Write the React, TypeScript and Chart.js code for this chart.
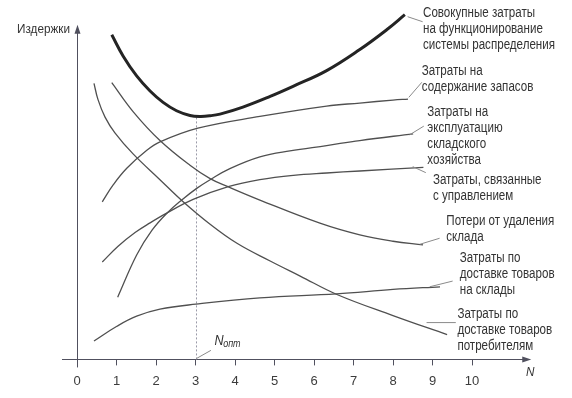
import React, { useEffect, useRef } from "react";
import { Chart, registerables } from "chart.js";
Chart.register(...registerables);

// ---- data (N = number of warehouses, cost in arbitrary units) ----
const X_TICKS = [0, 1, 2, 3, 4, 5, 6, 7, 8, 9, 10];

const TOTAL_N = [0.88, 1.17, 1.51, 1.85, 2.18, 2.52, 2.86, 3.12, 3.37, 3.62, 4.2, 4.89, 5.47, 6.32, 7.16, 7.84, 8.3];
const TOTAL_C = [9.7, 9.06, 8.47, 8.02, 7.68, 7.43, 7.29, 7.26, 7.28, 7.33, 7.54, 7.86, 8.16, 8.63, 9.26, 9.85, 10.3];

const STOCK_N = [0.64, 0.92, 1.26, 1.76, 2.1, 3.06, 4.63, 6.32, 7.16, 8.0, 8.38];
const STOCK_C = [4.71, 5.22, 5.71, 6.24, 6.5, 6.91, 7.26, 7.57, 7.66, 7.75, 7.78];

const OPER_N = [1.03, 1.51, 1.9, 2.27, 2.66, 3.03, 3.37, 3.87, 4.63, 5.39, 6.32, 7.16, 8.51];
const OPER_C = [1.86, 3.12, 3.86, 4.36, 4.77, 5.11, 5.37, 5.7, 6.05, 6.23, 6.39, 6.54, 6.74];

const MGMT_N = [0.64, 1.04, 1.47, 1.85, 2.27, 2.94, 3.83, 4.63, 5.48, 6.32, 7.16, 8.77];
const MGMT_C = [2.91, 3.38, 3.79, 4.08, 4.37, 4.78, 5.16, 5.37, 5.5, 5.57, 5.63, 5.74];

const LOSS_N = [0.88, 1.43, 2.1, 2.86, 3.37, 3.82, 4.63, 6.15, 7.16, 8.0, 8.76];
const LOSS_C = [8.27, 7.39, 6.54, 5.8, 5.4, 5.16, 4.76, 4.07, 3.72, 3.53, 3.42];

const TOWH_N = [0.43, 1.01, 1.51, 2.1, 3.01, 4.63, 6.57, 8.0, 9.19];
const TOWH_C = [0.55, 0.99, 1.29, 1.5, 1.65, 1.84, 1.96, 2.09, 2.17];

const CONS_N = [0.43, 0.53, 0.71, 0.96, 1.42, 2.1, 2.68, 3.37, 4.05, 4.89, 5.65, 6.58, 8.0, 9.37];
const CONS_C = [8.25, 7.77, 7.24, 6.77, 6.14, 5.37, 4.72, 4.04, 3.47, 2.94, 2.49, 1.94, 1.31, 0.74];

const N_OPT = 3;
const N_OPT_LEVEL = 7.27;

const Y_TITLE = "Издержки";
const X_TITLE = "N";

// labels: text lines, anchor [N, cost], leader [[N, cost],[N, cost]]
const LABELS = [
  { lines: ["Совокупные затраты", "на функционирование", "системы распределения"], at: [8.76, 10.35], leader: [[8.37, 10.24], [8.75, 10.09]] },
  { lines: ["Затраты на", "содержание запасов"], at: [8.73, 8.61], leader: [[8.4, 7.83], [8.73, 8.28]] },
  { lines: ["Затраты на", "эксплуатацию", "складского", "хозяйства"], at: [8.87, 7.38], leader: [[8.42, 6.71], [8.78, 6.97]] },
  { lines: ["Затраты, связанные", "с управлением"], at: [9.01, 5.35], leader: [[8.5, 5.76], [8.83, 5.58]] },
  { lines: ["Потери от удаления", "склада"], at: [9.35, 4.12], leader: [[8.68, 3.44], [9.18, 3.62]] },
  { lines: ["Затраты по", "доставке товаров", "на склады"], at: [9.69, 3.03], leader: [[8.93, 2.17], [9.51, 2.34]] },
  { lines: ["Затраты по", "доставке товаров", "потребителям"], at: [9.63, 1.34], leader: [[8.85, 1.1], [9.59, 1.1]] },
];

const FONT = '"Liberation Sans", Arial, sans-serif';
const TEXT = "#333333";
const AXIS = "#50505e";

const pts = (n: number[], c: number[]) => n.map((x, i) => ({ x, y: c[i] }));

function narrowText(ctx: any, t: string, x: number, y: number, s: number) {
  ctx.save();
  ctx.translate(x, y);
  ctx.scale(s, 1);
  ctx.fillText(t, 0, 0);
  ctx.restore();
}

const overlay = {
  id: "overlay",
  beforeDatasetsDraw(chart: any) {
    const { ctx } = chart;
    const xs = chart.scales.x, ys = chart.scales.y;
    const X = (v: number) => xs.getPixelForValue(v);
    const Y = (v: number) => ys.getPixelForValue(v);
    ctx.save();
    ctx.strokeStyle = AXIS;
    ctx.fillStyle = AXIS;
    ctx.lineWidth = 1;
    const x0 = Math.round(X(0)) + 0.5, y0 = Math.round(Y(0)) + 0.5;
    ctx.beginPath();
    ctx.moveTo(X(-0.38), y0);
    ctx.lineTo(X(11.4), y0);
    ctx.moveTo(x0, Y(-0.24));
    ctx.lineTo(x0, Y(9.9));
    ctx.stroke();
    const ax = X(11.5);
    ctx.beginPath();
    ctx.moveTo(ax, y0);
    ctx.lineTo(ax - 9, y0 - 3);
    ctx.lineTo(ax - 9, y0 + 3);
    ctx.closePath();
    ctx.fill();
    const ay = Y(10.0);
    ctx.beginPath();
    ctx.moveTo(x0, ay);
    ctx.lineTo(x0 - 3, ay + 9);
    ctx.lineTo(x0 + 3, ay + 9);
    ctx.closePath();
    ctx.fill();
    ctx.strokeStyle = "#9a9aa8";
    ctx.setLineDash([2, 2]);
    const xo = Math.round(X(N_OPT)) + 0.5;
    ctx.beginPath();
    ctx.moveTo(xo, Y(0));
    ctx.lineTo(xo, Y(N_OPT_LEVEL));
    ctx.stroke();
    ctx.setLineDash([]);
    ctx.restore();
  },
  afterDatasetsDraw(chart: any) {
    const { ctx } = chart;
    const xs = chart.scales.x, ys = chart.scales.y;
    const X = (v: number) => xs.getPixelForValue(v);
    const Y = (v: number) => ys.getPixelForValue(v);
    ctx.save();
    ctx.strokeStyle = "#8a8a8a";
    ctx.lineWidth = 1;
    for (const l of LABELS) {
      ctx.beginPath();
      ctx.moveTo(X(l.leader[0][0]), Y(l.leader[0][1]));
      ctx.lineTo(X(l.leader[1][0]), Y(l.leader[1][1]));
      ctx.stroke();
    }
    ctx.beginPath();
    ctx.moveTo(X(3.03), Y(0.03));
    ctx.lineTo(X(3.39), Y(0.27));
    ctx.stroke();

    ctx.fillStyle = TEXT;
    ctx.font = `14px ${FONT}`;
    ctx.textBaseline = "middle";
    ctx.textAlign = "left";
    const s = 132 / ctx.measureText("системы распределения").width;
    for (const l of LABELS) {
      const lx = X(l.at[0]);
      const ly = Y(l.at[1]);
      l.lines.forEach((t, i) => narrowText(ctx, t, lx, ly + i * 16, s));
    }
    ctx.font = `13px ${FONT}`;
    const sy = 53 / ctx.measureText(Y_TITLE).width;
    narrowText(ctx, Y_TITLE, 17, Y(9.85), sy);

    ctx.font = `italic 13px ${FONT}`;
    narrowText(ctx, X_TITLE, X(11.37), Y(-0.4), 0.9);

    ctx.textBaseline = "alphabetic";
    ctx.font = `italic 14px ${FONT}`;
    narrowText(ctx, "N", X(3.48), Y(0.42), 0.9);
    ctx.font = `italic 10px ${FONT}`;
    narrowText(ctx, "опт", X(3.7), Y(0.37), 0.9);
    ctx.restore();
  },
};

export default function App() {
  const ref = useRef<HTMLCanvasElement>(null);
  useEffect(() => {
    if (!ref.current) return;
    const thin = (n: number[], c: number[]) => ({
      data: pts(n, c),
      showLine: true,
      borderColor: "#505050",
      borderWidth: 1.3,
      pointRadius: 0,
      tension: 0.4,
      fill: false,
    });
    const chart = new Chart(ref.current, {
      type: "scatter",
      data: {
        datasets: [
          { ...thin(TOTAL_N, TOTAL_C), borderColor: "#242424", borderWidth: 3 },
          thin(STOCK_N, STOCK_C),
          thin(OPER_N, OPER_C),
          thin(MGMT_N, MGMT_C),
          thin(LOSS_N, LOSS_C),
          thin(TOWH_N, TOWH_C),
          thin(CONS_N, CONS_C),
        ],
      },
      options: {
        responsive: false,
        animation: false,
        devicePixelRatio: 1,
        layout: { padding: { left: 77, right: 21, top: 8, bottom: 1 } },
        plugins: { legend: { display: false }, tooltip: { enabled: false } },
        scales: {
          x: {
            type: "linear",
            min: 0,
            max: 12,
            afterBuildTicks: (sc: any) => {
              sc.ticks = X_TICKS.map((v) => ({ value: v }));
            },
            grid: { drawOnChartArea: false, drawTicks: true, tickLength: 6, color: AXIS },
            border: { display: false },
            ticks: { color: "#3c3c3c", font: { family: FONT, size: 13 }, padding: 8, maxRotation: 0, autoSkip: false },
          },
          y: { display: false, min: 0, max: 10.5 },
        },
      },
      plugins: [overlay],
    });
    return () => chart.destroy();
  }, []);
  return (
    <div style={{ position: "absolute", left: 0, top: 0, width: 572, height: 398, background: "#fff" }}>
      <canvas ref={ref} width={572} height={398} />
    </div>
  );
}
